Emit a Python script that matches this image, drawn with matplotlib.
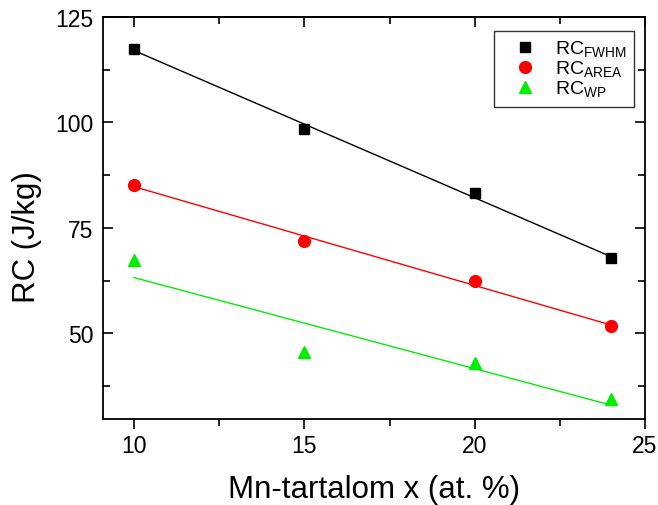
import numpy as np
import matplotlib
matplotlib.use("Agg")
import matplotlib.pyplot as plt

plt.rcParams['font.family'] = ['Liberation Sans', 'DejaVu Sans']
plt.rcParams['mathtext.fontset'] = 'custom'
plt.rcParams['mathtext.rm'] = 'Liberation Sans'

mn_content = [10, 15, 20, 24]
rc_fwhm = [117.5, 98.4, 83.3, 67.8]
rc_area = [85.2, 72.0, 62.3, 51.7]
rc_wp = [67.3, 45.5, 43.0, 34.5]

series_labels = [r'RC$_{\mathrm{FWHM}}$', r'RC$_{\mathrm{AREA}}$', r'RC$_{\mathrm{WP}}$']
series_values = [rc_fwhm, rc_area, rc_wp]
colors = ['black', '#ff0000', '#00ee00']
markers = ['s', 'o', '^']
msizes = [7, 8.5, 9]

fig = plt.figure(figsize=(6.58, 5.06), dpi=100)
ax = fig.add_axes([103/658, 1 - 420/506, (645 - 103)/658, (420 - 18)/506])

x = np.array(mn_content, dtype=float)
for vals, lab, c, m, ms in zip(series_values, series_labels, colors, markers, msizes):
    y = np.array(vals)
    ax.plot(x, y, linestyle='none', marker=m, color=c, markersize=ms, label=lab, zorder=3)
    # linear fit drawn across the measured range
    k, b = np.polyfit(x, y, 1)
    xf = np.array([x.min(), x.max()])
    ax.plot(xf, k * xf + b, color=c, linewidth=1.0, zorder=2)

ax.set_xlim(9.09, 25)
ax.set_ylim(29.7, 125)
ax.set_xticks([10, 15, 20, 25])
ax.set_xticks([12.5, 17.5, 22.5], minor=True)
ax.set_yticks([50, 75, 100, 125])
ax.set_yticks([37.5, 62.5, 87.5, 112.5], minor=True)

for s in ax.spines.values():
    s.set_linewidth(1.3)

ax.tick_params(axis='x', which='both', direction='out', bottom=True, top=False,
               labelsize=16.5, width=1.2, pad=4)
ax.tick_params(axis='y', which='both', direction='in', left=True, right=True,
               labelsize=16.5, width=1.2, pad=7)
ax.tick_params(which='major', length=7)
ax.tick_params(which='minor', length=5)

top = ax.secondary_xaxis('top')
top.set_xticks([10, 15, 20, 25])
top.set_xticks([12.5, 17.5, 22.5], minor=True)
top.tick_params(which='both', direction='in', labeltop=False, width=1.2)
top.tick_params(which='major', length=7)
top.tick_params(which='minor', length=5)
top.spines['top'].set_linewidth(1.3)

ax.set_xlabel('Mn-tartalom x (at. %)', fontsize=22.5, labelpad=12)
ax.set_ylabel('RC (J/kg)', fontsize=22.5)
ax.yaxis.set_label_coords(-0.112, 0.455)

leg = ax.legend(loc='upper right', bbox_to_anchor=(0.9797, 0.9652), borderaxespad=0,
                fontsize=14, frameon=True, fancybox=False, edgecolor='black',
                borderpad=0.4, labelspacing=-0.02, handletextpad=0.3,
                handlelength=2.4)
leg.get_frame().set_linewidth(1.0)

fig.savefig('out.png', dpi=100)
